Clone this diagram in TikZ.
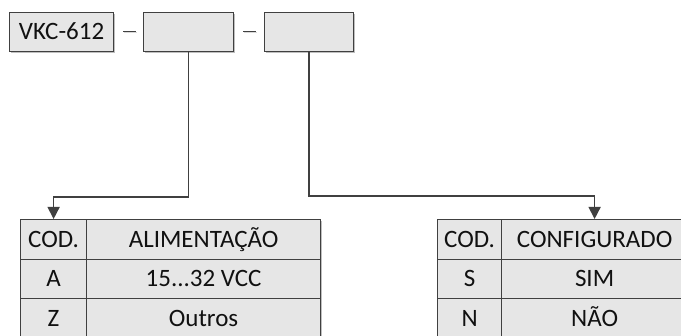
\documentclass[tikz,border=0pt]{standalone}
\usepackage{fontspec}
\setmainfont{Carlito}
\usetikzlibrary{arrows.meta,shadows}
\definecolor{boxfill}{HTML}{E6E6E6}
\definecolor{edgec}{HTML}{404040}
\definecolor{shadec}{HTML}{D8D8D8}
\definecolor{txtc}{HTML}{111111}
\begin{document}
\begin{tikzpicture}[x=1pt,y=-1pt,
  cell/.style={draw=edgec,fill=boxfill,line width=1.2pt,inner sep=0pt,anchor=north west,
    font=\fontsize{25}{28}\selectfont,text=txtc,text height=18pt,text depth=3pt,
    drop shadow={shadow xshift=1.5pt,shadow yshift=-1.5pt,opacity=0.25,fill=black}},
  conn/.style={draw=edgec,line width=1.5pt,-{Triangle[width=12pt,length=12pt]}},
  dashline/.style={draw=edgec,line width=0.9pt}]
\path[use as bounding box] (0,0) rectangle (681,336);
\clip (0,0) rectangle (681,336);
\fill[white] (0,0) rectangle (681,336);

% top code boxes
\node[cell,minimum width=104pt,minimum height=39pt] (b1) at (9,12) {VKC-612};
\node[cell,minimum width=90pt,minimum height=39pt] (b2) at (143,12) {};
\node[cell,minimum width=89pt,minimum height=39pt] (b3) at (264,12) {};

% separators
\draw[shadec,line width=1pt] (124,32.5) -- (137,32.5);
\draw[dashline] (123,31) -- (136,31);
\draw[shadec,line width=1pt] (244,32.5) -- (257,32.5);
\draw[dashline] (243,31) -- (256,31);

% left table
\node[cell,minimum width=66pt,minimum height=40pt] (l11) at (20,219) {COD.};
\node[cell,minimum width=234pt,minimum height=40pt] (l12) at (86,219) {ALIMENTAÇÃO};
\node[cell,minimum width=66pt,minimum height=39pt] (l21) at (20,259) {A};
\node[cell,minimum width=234pt,minimum height=39pt] (l22) at (86,259) {15...32 VCC};
\node[cell,minimum width=66pt,minimum height=40pt] (l31) at (20,298) {Z};
\node[cell,minimum width=234pt,minimum height=40pt] (l32) at (86,298) {Outros};

% right table
\node[cell,minimum width=64pt,minimum height=40pt] (r11) at (437,219) {COD.};
\node[cell,minimum width=186pt,minimum height=40pt] (r12) at (501,219) {CONFIGURADO};
\node[cell,minimum width=64pt,minimum height=39pt] (r21) at (437,259) {S};
\node[cell,minimum width=186pt,minimum height=39pt] (r22) at (501,259) {SIM};
\node[cell,minimum width=64pt,minimum height=40pt] (r31) at (437,298) {N};
\node[cell,minimum width=186pt,minimum height=40pt] (r32) at (501,298) {NÃO};

% connectors
\draw[conn] (b2.south) -- (b2.south |- 0,197) -| (l11.north);
\draw[conn] (b3.south) -- (b3.south |- 0,196) -| (r12.north);
\end{tikzpicture}
\end{document}
